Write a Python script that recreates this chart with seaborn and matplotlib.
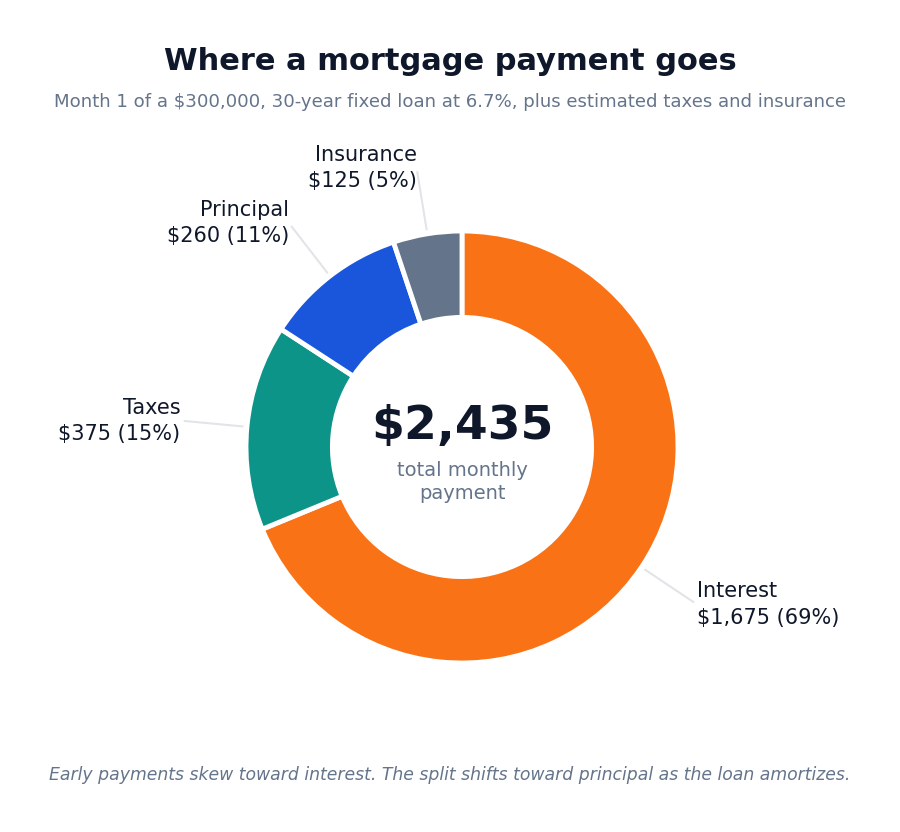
import numpy as np
import matplotlib
matplotlib.use("Agg")
import matplotlib.pyplot as plt
import seaborn as sns

categories = ["Interest", "Taxes", "Principal", "Insurance"]
values = [1675, 375, 260, 125]
colors = ["#F97316", "#0D9488", "#1A56DB", "#64748B"]
title = "Where a mortgage payment goes"
subtitle = "Month 1 of a $300,000, 30-year fixed loan at 6.7%, plus estimated taxes and insurance"
footer = "Early payments skew toward interest. The split shifts toward principal as the loan amortizes."
center_sub = "total monthly\npayment"

sns.set_theme(style="white")
plt.rcParams["font.family"] = ["DejaVu Sans"]
plt.rcParams["text.parse_math"] = False

W, H, dpi = 900, 832, 100
fig = plt.figure(figsize=(W / dpi, H / dpi), dpi=dpi)
fig.patch.set_facecolor("white")

R = 216.0
cx, cy = 462.0, 447.0
ax = fig.add_axes([0, 0, 1, 1])

total = sum(values)
wedges, _ = ax.pie(values, colors=colors, startangle=90, counterclock=False,
                   radius=1.0, wedgeprops=dict(width=0.4, edgecolor="white", linewidth=3.5))

ax.set_aspect("equal")
ax.set_xlim(-cx / R, (W - cx) / R)
ax.set_ylim(-(H - cy) / R, cy / R)
ax.axis("off")

dark = "#0F172A"
gray = "#64748B"
for w, cat, v in zip(wedges, categories, values):
    ang = np.deg2rad((w.theta1 + w.theta2) / 2)
    c, s = np.cos(ang), np.sin(ang)
    ax.plot([1.02 * c, 1.29 * c], [1.02 * s, 1.29 * s], color="#E2E4E8", lw=1.5, zorder=1)
    ha = "left" if c > 0 else "right"
    pct = round(v / total * 100)
    ax.text(1.31 * c, 1.31 * s, f"{cat}\n${v:,} ({pct}%)", ha=ha, va="center",
            fontsize=15, color=dark, linespacing=1.38)

ax.text(0, (cy - 427) / R, f"${total:,}", ha="center", va="center",
        fontsize=34, fontweight="bold", color=dark)
ax.text(0, (cy - 482) / R, center_sub, ha="center", va="center",
        fontsize=14, color=gray, linespacing=1.32)

fig.text(0.5, 1 - 62 / H, title, ha="center", va="center", fontsize=22,
         fontweight="bold", color=dark)
fig.text(0.5, 1 - 102 / H, subtitle, ha="center", va="center", fontsize=13.1, color=gray)
fig.text(0.5, 1 - 775 / H, footer, ha="center", va="center", fontsize=12.45,
         style="italic", color=gray)

fig.savefig("out.png", dpi=dpi, facecolor="white")
